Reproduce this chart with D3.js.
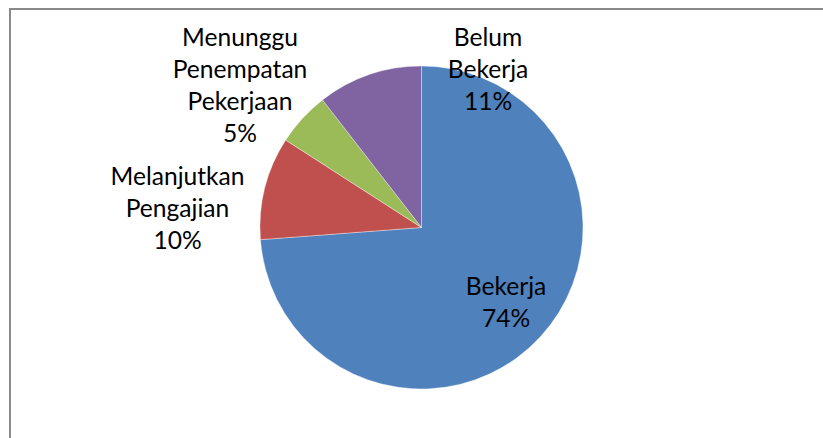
<!DOCTYPE html>
<html>
<head>
<meta charset="utf-8">
<script src="https://cdn.jsdelivr.net/npm/d3@7"></script>
<style>
html,body{margin:0;padding:0;background:#fff;}
svg{display:block;}
</style>
</head>
<body>
<svg id="chart" width="823" height="438"></svg>
<script>
// Data
const categories = ["Bekerja", "Melanjutkan Pengajian", "Menunggu Penempatan Pekerjaan", "Belum Bekerja"];
const values = [73.8, 10.3, 5.4, 10.5];
const percentLabels = ["74%", "10%", "5%", "11%"];
const labelLines = [["Bekerja"], ["Melanjutkan", "Pengajian"], ["Menunggu", "Penempatan", "Pekerjaan"], ["Belum", "Bekerja"]];
const colors = ["#4F81BD", "#C0504D", "#9BBB59", "#8064A2"];

// Layout
const W = 823, H = 438;
const cx = 421.5, cy = 227.5, R = 161.5;
const fontSize = 24.6, lineH = 32;
// label anchor offsets (centre x, first baseline y) relative to pie centre
const labelPos = [[84.5, 67.5], [-244, -42.5], [-181.5, -181.5], [66.5, -181.5]];

const svg = d3.select("#chart");
svg.append("rect").attr("x", 10).attr("y", 9).attr("width", W + 20).attr("height", H + 20)
  .attr("fill", "#fff").attr("stroke", "#8a8a8a").attr("stroke-width", 2);

const pie = d3.pie().sort(null).value(d => d)(values);
const arc = d3.arc().innerRadius(0).outerRadius(R);
const g = svg.append("g").attr("transform", `translate(${cx},${cy})`);
g.selectAll("path").data(pie).join("path")
  .attr("d", arc)
  .attr("fill", (d, i) => colors[i])
  .attr("stroke", "#ffffff").attr("stroke-width", 0.6).attr("stroke-opacity", 0.6);

const labels = g.selectAll("text.lbl").data(pie).join("text")
  .attr("class", "lbl")
  .attr("text-anchor", "middle")
  .attr("font-family", "Lato, 'Open Sans', sans-serif")
  .attr("font-size", fontSize)
  .attr("fill", "#000")
  .attr("x", (d, i) => labelPos[i][0])
  .attr("y", (d, i) => labelPos[i][1]);
labels.each(function(d, i) {
  const lines = labelLines[i].concat([percentLabels[i]]);
  d3.select(this).selectAll("tspan").data(lines).join("tspan")
    .attr("x", labelPos[i][0])
    .attr("dy", (t, j) => j === 0 ? 0 : lineH)
    .text(t => t);
});
</script>
</body>
</html>
